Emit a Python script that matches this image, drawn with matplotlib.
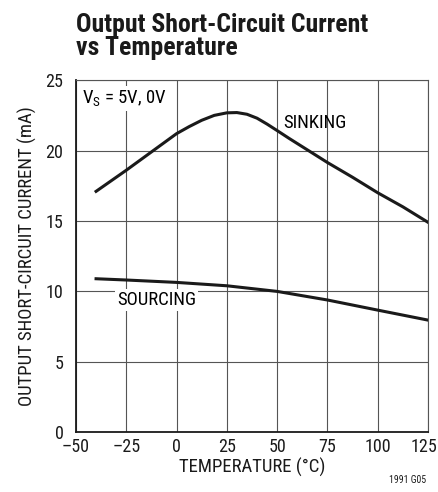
import matplotlib
matplotlib.use("Agg")
import matplotlib.pyplot as plt
import matplotlib.transforms as mtransforms
from matplotlib import font_manager

# pick a narrow face if one is installed
names = {f.name for f in font_manager.fontManager.ttflist}
dejavu_cond = any(f.name == 'DejaVu Sans' and f.stretch == 'condensed'
                  for f in font_manager.fontManager.ttflist)
family = 'DejaVu Sans'
stretch = 'normal'
for cand in ['Liberation Sans Narrow', 'Roboto Condensed', 'Open Sans Condensed']:
    if cand in names:
        family = cand
        break
else:
    if dejavu_cond:
        stretch = 'condensed'
plt.rcParams['font.family'] = [family, 'DejaVu Sans']
plt.rcParams['font.stretch'] = stretch

temp_sink = [-40, -32.5, -25, -18.75, -12.5, -6.25, 0, 6.25, 12.5, 18.75, 25, 30, 35, 40, 45,
             50, 56, 65, 75, 87.5, 100, 112.5, 125]
sinking = [17.1, 17.85, 18.6, 19.25, 19.9, 20.55, 21.2, 21.7, 22.15, 22.5, 22.68, 22.7, 22.58, 22.3, 21.88,
           21.42, 20.86, 20.05, 19.15, 18.1, 17.0, 16.0, 14.9]
temp_src = [-40, -25, 0, 25, 50, 75, 100, 125]
sourcing = [10.89, 10.8, 10.63, 10.39, 9.99, 9.38, 8.66, 7.95]

xticks = [-50, -25, 0, 25, 50, 75, 100, 125]
xtick_labels = ['–50', '–25', '0', '25', '50', '75', '100', '125']
yticks = [0, 5, 10, 15, 20, 25]

fig = plt.figure(figsize=(4.39, 4.92), dpi=100)
ax = fig.add_axes([0.173, 0.122, 0.802, 0.715])

ax.plot(temp_sink, sinking, color='#1a1a1a', lw=2.2, solid_joinstyle='round', zorder=3)
ax.plot(temp_src, sourcing, color='#1a1a1a', lw=2.2, solid_joinstyle='round', zorder=3)

ax.set_xlim(-50, 125)
ax.set_ylim(0, 25)
ax.set_xticks(xticks)
ax.set_xticklabels(xtick_labels)
ax.set_yticks(yticks)
ax.tick_params(length=0, labelsize=13, colors='#1a1a1a')
ax.tick_params(axis='y', pad=9)
ax.tick_params(axis='x', pad=4)
ax.grid(True, color='#555555', lw=0.8, zorder=1)
ax.set_axisbelow(True)

# nudge the last x label so it stays inside the figure
last = ax.get_xticklabels()[-1]
last.set_transform(last.get_transform() +
                   mtransforms.ScaledTranslation(-4 / 100, 0, fig.dpi_scale_trans))

for s in ['left', 'bottom']:
    ax.spines[s].set_linewidth(1.3)
    ax.spines[s].set_color('#1a1a1a')
for s in ['top', 'right']:
    ax.spines[s].set_linewidth(0.8)
    ax.spines[s].set_color('#555555')

ax.set_xlabel('TEMPERATURE (°C)', fontsize=13.5, color='#1a1a1a', labelpad=2)
ax.set_ylabel('OUTPUT SHORT-CIRCUIT CURRENT (mA)', fontsize=13.5, color='#1a1a1a', labelpad=6)

box = dict(facecolor='white', edgecolor='none', pad=1.5)
ax.text(-47, 23.7, 'V$_\\mathregular{S}$ = 5V, 0V', fontsize=13.5, va='center', ha='left', bbox=box, zorder=2)
ax.text(69, 21.95, 'SINKING', fontsize=13.5, va='center', ha='center', zorder=2)
ax.text(-10, 9.4, 'SOURCING', fontsize=13.5, va='center', ha='center', bbox=box, zorder=2)

fig.text(0.173, 0.925, 'Output Short-Circuit Current\nvs Temperature', fontsize=18.5, fontweight='bold',
         ha='left', va='center', linespacing=0.95, color='#1a1a1a')
fig.text(0.97, 0.025, '1991 G05', fontsize=7, ha='right', va='center', color='#1a1a1a')

fig.savefig('out.png', dpi=100)
